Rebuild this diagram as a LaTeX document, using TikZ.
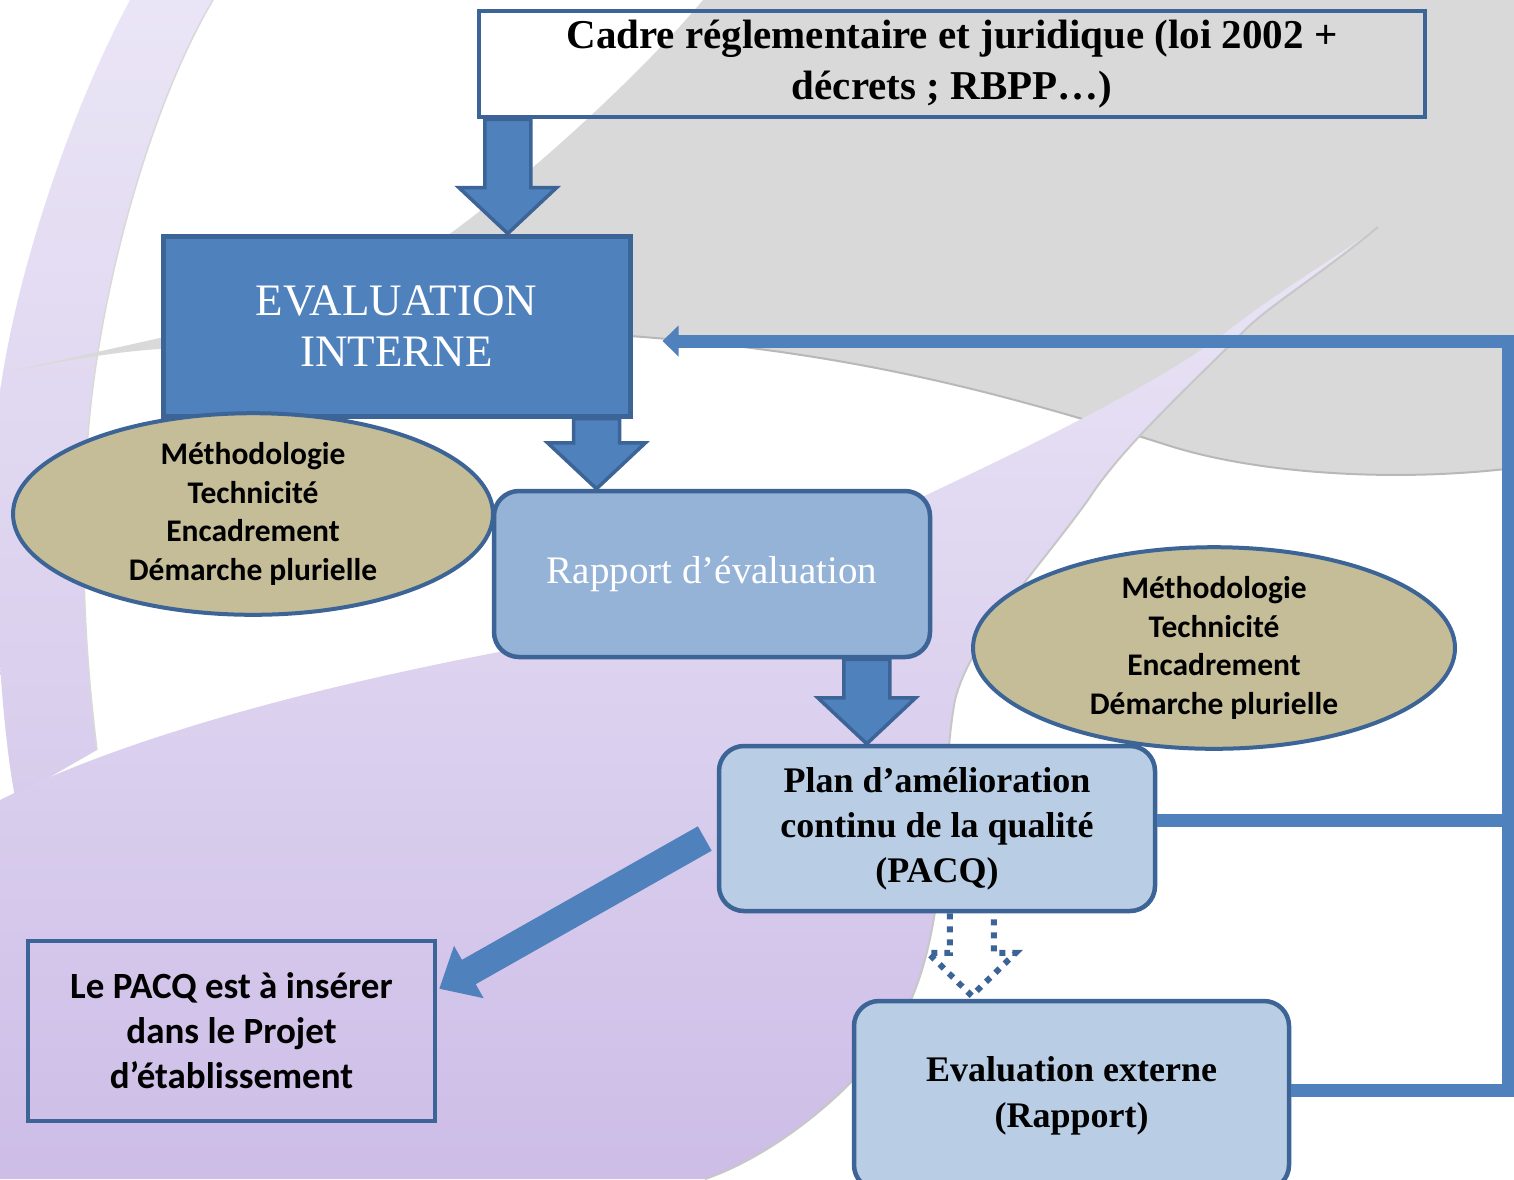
\documentclass[tikz,border=0pt]{standalone}
\usepackage{fontspec}
\setmainfont{Liberation Serif}
\newfontfamily\calib{Carlito}
\usetikzlibrary{calc,arrows.meta,shapes.geometric}
\definecolor{bblue}{HTML}{4F81BD}
\definecolor{bord}{HTML}{3C6496}
\definecolor{rapfill}{HTML}{95B3D7}
\definecolor{lightfill}{HTML}{B9CDE5}
\definecolor{olivefill}{HTML}{C4BD97}
\definecolor{graybg}{HTML}{D9D9D9}
\definecolor{purtop}{HTML}{EAE5F6}
\definecolor{purbot}{HTML}{CDBDE7}
\definecolor{bandtop}{HTML}{EAE5F6}
\definecolor{bandbot}{HTML}{D8CCEC}
\tikzset{
  boxbase/.style={draw=bord, line width=4.5pt, inner sep=0pt, align=center},
  serifblack/.style={font=\fontsize{36}{45}\selectfont\bfseries},
  roundbox/.style={boxbase, rounded corners=25pt},
  olipse/.style={boxbase, ellipse, fill=olivefill, line width=4pt,
     font=\calib\fontsize{31.5}{38.5}\selectfont\bfseries},
  barrow/.style={draw=bord, fill=bblue, line width=3.5pt, line join=miter},
  dotarrow/.style={draw=bord, line width=6pt, dash pattern=on 6pt off 7pt},
  loopline/.style={draw=bblue, line width=13pt, line join=miter},
}
\newcommand\blockarrow[4]{% start, tip, half shaft, style
  \draw[#4] ($(#1)+(-#3,0)$) -- ($(#2)+(-#3,-46)$) -- ($(#2)+(-49,-46)$) -- (#2)
     -- ($(#2)+(49,-46)$) -- ($(#2)+(#3,-46)$) -- ($(#1)+(#3,0)$) -- cycle;}
\begin{document}
\begin{tikzpicture}[x=1pt,y=-1pt]
\useasboundingbox (0,0) rectangle (1514,1179);
\fill[white] (0,0) rectangle (1514,1179);
% ---------- background: purple band
\shade[top color=bandtop, bottom color=bandbot]
  (130,0) -- (213,0) .. controls (145,115) and (95,310) .. (87,450)
  .. controls (80,560) and (85,650) .. (97,750) -- (15,797)
  .. controls (0,720) and (-8,560) .. (-5,450)
  .. controls (-2,330) and (60,130) .. (130,0) -- cycle;
\draw[color=black!15, line width=1.5pt] (213,0) .. controls (145,115) and (95,310) .. (87,450)
  .. controls (80,560) and (85,650) .. (97,750);
% ---------- background: gray wave
\fill[graybg] (703,0) .. controls (640,75) and (530,175) .. (451,233)
  .. controls (350,290) and (250,325) .. (160,338) -- (7,372)
  .. controls (60,362) and (110,352) .. (160,349)
  .. controls (350,335) and (500,330) .. (630,336)
  .. controls (850,352) and (1000,392) .. (1167,445)
  .. controls (1260,475) and (1400,482) .. (1514,468) -- (1514,0) -- cycle;
\draw[color=black!28, line width=2pt] (630,336)
  .. controls (850,352) and (1000,392) .. (1167,445)
  .. controls (1260,475) and (1400,482) .. (1514,468);
% ---------- background: purple blob with wedge
\shade[top color=purtop, bottom color=purbot]
  (0,800) .. controls (120,740) and (300,690) .. (499,652)
  .. controls (700,610) and (850,540) .. (916,500)
  .. controls (1000,460) and (1150,390) .. (1225,333)
  .. controls (1280,290) and (1340,255) .. (1378,227)
  .. controls (1320,275) and (1270,305) .. (1245,330)
  .. controls (1180,395) and (1120,450) .. (1088,500)
  .. controls (1030,580) and (970,640) .. (955,700)
  .. controls (940,780) and (950,900) .. (915,990)
  .. controls (890,1060) and (790,1150) .. (705,1179)
  -- (0,1179) -- cycle;
\draw[color=black!22, line width=2pt] (1378,227)
  .. controls (1320,275) and (1270,305) .. (1245,330)
  .. controls (1180,395) and (1120,450) .. (1088,500)
  .. controls (1030,580) and (970,640) .. (955,700)
  .. controls (940,780) and (950,900) .. (915,990)
  .. controls (890,1060) and (790,1150) .. (705,1179);
% ---------- nodes
\node[boxbase, minimum width=946pt, minimum height=106pt,
  font=\fontsize{41}{51}\selectfont\bfseries] (cadre) at (952,64)
  {Cadre réglementaire et juridique (loi 2002 +\\décrets ; RBPP…)};
\node[boxbase, fill=bblue, line width=5pt, minimum width=467pt, minimum height=180pt,
  text=white, font=\fontsize{45}{51}\selectfont] (evi) at (396.5,326)
  {EVALUATION\\INTERNE};
\node[roundbox, fill=rapfill, minimum width=436pt, minimum height=166pt,
  text=white, font=\fontsize{39}{47}\selectfont] (rapport) at (712,574)
  {Rapport d’évaluation};
\node[roundbox, fill=lightfill, serifblack, minimum width=436pt, minimum height=165pt]
  (pacq) at (937,828.5) {Plan d’amélioration\\continu de la qualité\\(PACQ)};
\node[roundbox, fill=lightfill, minimum width=435pt, minimum height=189pt,
  font=\fontsize{36}{46}\selectfont\bfseries] (ext) at (1071.5,1095.5)
  {Evaluation externe\\(Rapport)};
\node[olipse, minimum width=480pt, minimum height=194pt] (ell1) at (253,514)
  {Méthodologie\\Technicité\\Encadrement\\Démarche plurielle};
\node[olipse, minimum width=482pt, minimum height=196pt] (ell2) at (1214,648)
  {Méthodologie\\Technicité\\Encadrement\\Démarche plurielle};
\node[boxbase, minimum width=407pt, minimum height=180pt,
  font=\calib\fontsize{37}{45}\selectfont\bfseries] (lepacq) at (231.5,1031)
  {Le PACQ est à insérer\\dans le Projet\\d’établissement};
% ---------- block arrows
\coordinate (a1s) at ($(cadre.south west)+(31,0)$);
\coordinate (a1e) at (a1s |- evi.north);
\blockarrow{a1s}{a1e}{23}{barrow}
\coordinate (a2s) at ($(evi.south west)+(436,0)$);
\coordinate (a2e) at (a2s |- rapport.north);
\blockarrow{a2s}{a2e}{23}{barrow}
\coordinate (a3s) at ($(rapport.south west)+(375,0)$);
\coordinate (a3e) at (a3s |- pacq.north);
\blockarrow{a3s}{a3e}{23}{barrow}
% ---------- dotted arrow
\coordinate (a4s) at ($(pacq.south west)+(255,0)$);
\coordinate (a4e) at ($(a4s |- ext.north)+(0,-3)$);
\draw[dotarrow] ($(a4s)+(-22,0)$) -- ($(a4e)+(-22,-43)$) -- ($(a4e)+(-44,-43)$) -- (a4e)
  -- ($(a4e)+(44,-43)$) -- ($(a4e)+(22,-43)$) -- ($(a4s)+(22,0)$);
% ---------- diagonal arrow
\coordinate (d1s) at ($(pacq.west)+(-12,10)$);
\coordinate (d1e) at ($(lepacq.north east)+(2,50)$);
\draw[draw=bblue, line width=28pt, -{Triangle[length=34pt,width=58pt]}] (d1s) -- (d1e);
% ---------- feedback loop
\coordinate (corner) at (1508,0);
\coordinate (lp1) at ($(pacq.east)+(0,-8)$);
\coordinate (lp2) at ($(ext.east)+(0,-5)$);
\coordinate (fbtip) at ($(evi.east)+(30,15)$);
\draw[loopline, -{Triangle[length=16pt,width=30pt]}] (lp1) -- (lp1 -| corner) |- (fbtip);
\draw[loopline] (lp2) -- (lp2 -| corner) -- (lp1 -| corner);
\end{tikzpicture}
\end{document}
